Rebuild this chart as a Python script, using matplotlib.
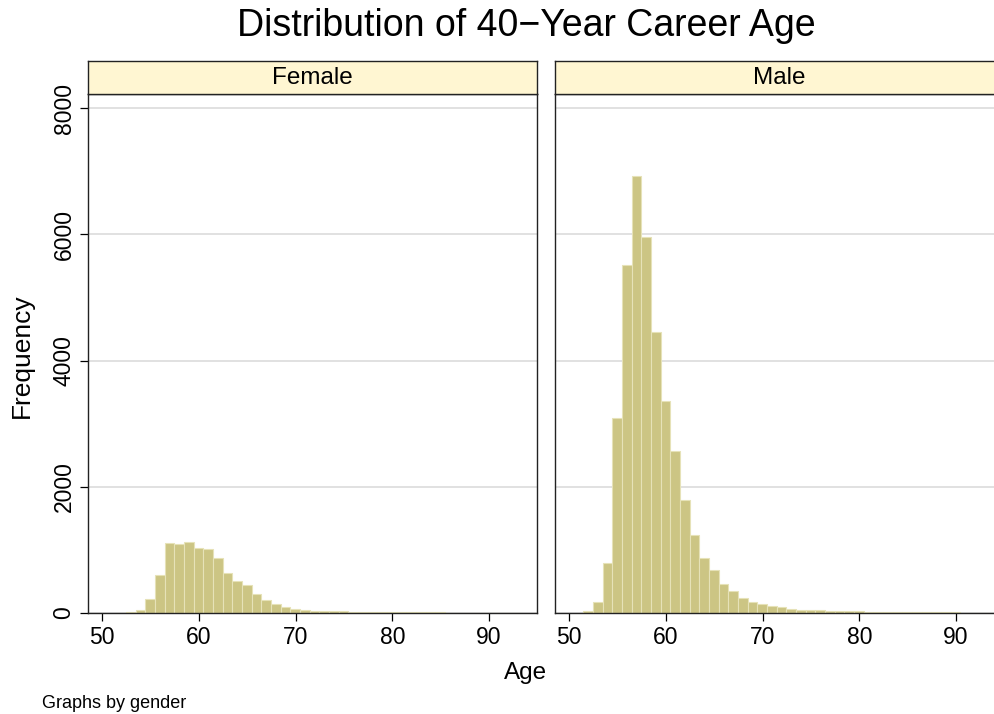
import numpy as np
import matplotlib.pyplot as plt

plt.rcParams['font.family'] = ['Liberation Sans', 'DejaVu Sans']

# histogram bins (left edges, width 1 year)
bin_start = 51.45
bin_width = 1.0

female_counts = [0, 16, 48, 217, 603, 1106, 1090, 1121, 1037, 1010, 868, 630,
                 503, 439, 296, 206, 138, 90, 58, 42, 37, 32, 26, 26, 21, 16,
                 14, 12, 11, 10, 9, 9, 8, 8, 7, 7, 6, 6, 5, 5, 5, 5]
male_counts = [32, 169, 794, 3090, 5512, 6930, 5951, 4454, 3354, 2571, 1783, 1243,
               873, 682, 466, 354, 243, 180, 138, 116, 90, 69, 53, 48, 48, 37,
               32, 30, 30, 18, 15, 14, 13, 12, 11, 10, 9, 8, 8, 7, 6, 0]
panels = ["Female", "Male"]
x_ticks = [50, 60, 70, 80, 90]
y_ticks = [0, 2000, 4000, 6000, 8000]

edges = bin_start + bin_width * np.arange(len(male_counts))

fig = plt.figure(figsize=(9.95, 7.14), dpi=100)
W, H = 995, 714
bar_color = "#CCC584"
edge_color = "#E6E2B8"
strip_color = "#FFF6D2"

axes = []
for k, (name, counts) in enumerate(zip(panels, [female_counts, male_counts])):
    left = 88 if k == 0 else 555
    ax = fig.add_axes([left / W, 1 - 613 / H, 449 / W, (613 - 94) / H])
    ax.bar(edges, counts, width=bin_width, align='edge', color=bar_color,
           edgecolor=edge_color, linewidth=0.8, zorder=2)
    ax.set_xlim(48.52, 94.97)
    ax.set_ylim(0, 8222)
    ax.set_xticks(x_ticks)
    ax.set_yticks(y_ticks)
    ax.yaxis.grid(True, color="#DCDCDC", linewidth=1.2, zorder=0)
    ax.set_axisbelow(True)
    ax.tick_params(axis='both', direction='out', length=6, width=0.9,
                   labelsize=16.5, colors="black", pad=3)
    ax.tick_params(axis='y', labelrotation=90)
    for lab in ax.get_yticklabels():
        lab.set_va('center')
    for s in ax.spines.values():
        s.set_linewidth(1.0)
        s.set_color("#222222")
    if k == 1:
        ax.tick_params(axis='y', left=False, labelleft=False)
    # strip header
    sax = fig.add_axes([left / W, 1 - 94 / H, 449 / W, 33 / H])
    sax.set_facecolor(strip_color)
    sax.set_xticks([])
    sax.set_yticks([])
    for s in sax.spines.values():
        s.set_linewidth(1.0)
        s.set_color("#222222")
    sax.text(0.5, 0.5, name, ha='center', va='center', fontsize=17.5,
             transform=sax.transAxes)
    axes.append(ax)

fig.text(526 / W, 1 - 26 / H, "Distribution of 40\u2212Year Career Age",
         ha='center', va='center', fontsize=27)
fig.text(22 / W, 1 - 356 / H, "Frequency", ha='center', va='center',
         rotation=90, fontsize=19)
fig.text(526 / W, 1 - 673 / H, "Age", ha='center', va='center', fontsize=17.5)
fig.text(42 / W, 1 - 703 / H, "Graphs by gender", ha='left', va='center',
         fontsize=13)

fig.savefig("out.png", dpi=100)
